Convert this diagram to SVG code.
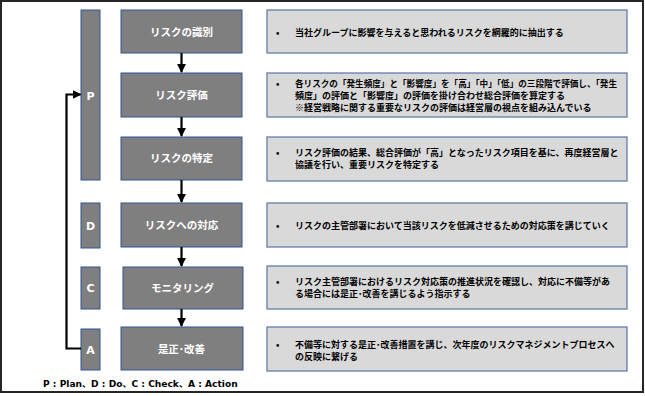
<svg xmlns="http://www.w3.org/2000/svg" width="645" height="396" viewBox="0 0 645 396">
<style>
.frame{fill:#fff;stroke:#262626;stroke-width:2}
.phase{fill:#7f7f7f;stroke:#2f5597;stroke-width:1}
.step{fill:#7f7f7f;stroke:#2f5597;stroke-width:1}
.desc{fill:#d9d9d9;stroke:#5a72a8;stroke-width:1.2}
.lbl{font-family:"Noto Sans CJK JP","Noto Sans",sans-serif;font-weight:bold;fill:#fff;text-anchor:middle}
.letter{font-family:"DejaVu Sans","Noto Sans",sans-serif;font-weight:bold;font-size:11px;fill:#fff;text-anchor:middle}
.txt{font-family:"Noto Sans CJK JP","Noto Sans",sans-serif;font-weight:bold;font-size:9px;fill:#000}
.con{stroke:#000;stroke-width:2.2;fill:none}
.legend{font-family:"DejaVu Sans","Noto Sans CJK JP",sans-serif;font-weight:bold;font-size:9.1px;fill:#000}
</style>
<defs>
<marker id="ah" viewBox="0 0 10 10" refX="9" refY="5" markerWidth="4" markerHeight="4" orient="auto" markerUnits="strokeWidth">
<path d="M0,0 L10,5 L0,10 z" fill="#000"/>
</marker>
</defs>
<rect class="frame" x="1" y="1" width="642" height="391"/>

<g id="phase-P"><rect class="phase" x="81" y="10" width="19" height="170"/><text class="letter" x="90.5" y="99.5">P</text></g>
<g id="phase-D"><rect class="phase" x="81" y="203" width="19" height="45"/><text class="letter" x="90.5" y="230">D</text></g>
<g id="phase-C"><rect class="phase" x="81" y="267" width="19" height="42"/><text class="letter" x="90.5" y="292">C</text></g>
<g id="phase-A"><rect class="phase" x="81" y="329" width="19" height="41"/><text class="letter" x="90.5" y="354">A</text></g>

<g id="step1"><rect class="step" x="121" y="10" width="121" height="43"/><text class="lbl" x="181.5" y="35.5" font-size="10.5">リスクの識別</text></g>
<g id="step2"><rect class="step" x="121" y="73" width="121" height="44"/><text class="lbl" x="181.5" y="99" font-size="10.5">リスク評価</text></g>
<g id="step3"><rect class="step" x="121" y="137" width="121" height="43"/><text class="lbl" x="181.5" y="162" font-size="10.5">リスクの特定</text></g>
<g id="step4"><rect class="step" x="121" y="203" width="121" height="44"/><text class="lbl" x="181.5" y="228.5" font-size="10.5">リスクへの対応</text></g>
<g id="step5"><rect class="step" x="123" y="267" width="120" height="42"/><text class="lbl" x="182.5" y="291.5" font-size="10.5">モニタリング</text></g>
<g id="step6"><rect class="step" x="121" y="327" width="122" height="43"/><text class="lbl" x="181.5" y="352.5" font-size="10.5">是正･改善</text></g>

<g id="desc1"><rect class="desc" x="267" y="10" width="360" height="43"/>
<text class="txt" x="276" y="35.5">•</text><text class="txt" x="295" y="35.5">当社グループに影響を与えると思われるリスクを網羅的に抽出する</text></g>
<g id="desc2"><rect class="desc" x="267" y="73" width="360" height="44"/>
<text class="txt" x="276" y="86.5">•</text>
<text class="txt" x="295" y="86.5" textLength="322" lengthAdjust="spacingAndGlyphs">各リスクの「発生頻度」と「影響度」を「高」「中」「低」の三段階で評価し、「発生</text>
<text class="txt" x="295" y="98.5">頻度」の評価と「影響度」の評価を掛け合わせ総合評価を算定する</text>
<text class="txt" x="295" y="110.5">※経営戦略に関する重要なリスクの評価は経営層の視点を組み込んでいる</text></g>
<g id="desc3"><rect class="desc" x="267" y="137" width="360" height="44"/>
<text class="txt" x="276" y="156">•</text>
<text class="txt" x="295" y="156">リスク評価の結果、総合評価が「高」となったリスク項目を基に、再度経営層と</text>
<text class="txt" x="295" y="168">協議を行い、重要リスクを特定する</text></g>
<g id="desc4"><rect class="desc" x="267" y="203" width="360" height="44"/>
<text class="txt" x="276" y="229">•</text><text class="txt" x="295" y="229">リスクの主管部署において当該リスクを低減させるための対応策を講じていく</text></g>
<g id="desc5"><rect class="desc" x="267" y="266" width="360" height="43"/>
<text class="txt" x="276" y="285">•</text>
<text class="txt" x="295" y="285">リスク主管部署におけるリスク対応策の推進状況を確認し、対応に不備等があ</text>
<text class="txt" x="295" y="297">る場合には是正･改善を講じるよう指示する</text></g>
<g id="desc6"><rect class="desc" x="267" y="327" width="360" height="44"/>
<text class="txt" x="276" y="347.5">•</text>
<text class="txt" x="295" y="347.5">不備等に対する是正･改善措置を講じ、次年度のリスクマネジメントプロセスへ</text>
<text class="txt" x="295" y="359.5">の反映に繋げる</text></g>

<g id="connectors">
<line class="con" x1="181.5" y1="53" x2="181.5" y2="72" marker-end="url(#ah)"/>
<line class="con" x1="181.5" y1="117" x2="181.5" y2="136" marker-end="url(#ah)"/>
<line class="con" x1="181.5" y1="180" x2="181.5" y2="202" marker-end="url(#ah)"/>
<line class="con" x1="181.5" y1="247" x2="181.5" y2="266" marker-end="url(#ah)"/>
<line class="con" x1="181.5" y1="309" x2="181.5" y2="326" marker-end="url(#ah)"/>
<polyline class="con" points="81,348.5 66.5,348.5 66.5,94.5 80.5,94.5" marker-end="url(#ah)"/>
</g>

<text class="legend" x="43" y="387">P : Plan、D : Do、C : Check、A : Action</text>
</svg>
